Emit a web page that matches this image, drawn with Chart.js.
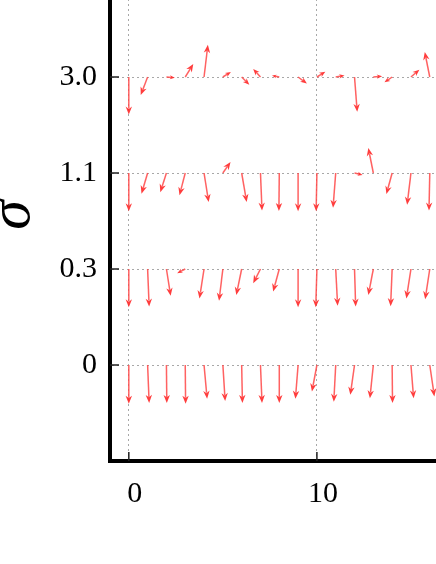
<!DOCTYPE html>
<html>
<head>
<meta charset="utf-8">
<script src="https://cdn.jsdelivr.net/npm/chart.js@4.4.1/dist/chart.umd.min.js"></script>
<style>
  html, body { margin: 0; padding: 0; background: #fff; overflow: hidden; }
  #wrap { position: absolute; left: 0; top: -62px; width: 505px; height: 626px; }
</style>
</head>
<body>
<div id="wrap"><canvas id="chart" width="505" height="626"></canvas></div>
<script>
/* global Chart */

// x positions (grid index) and sigma rows, bottom to top
const xs = [0, 1, 2, 3, 4, 5, 6, 7, 8, 9, 10, 11, 12, 13, 14, 15, 16];
const sigmaLabels = ['0', '0.3', '1.1', '3.0'];
const xTicks = [0, 10];

// vector components (u right, v up), one pair of arrays per sigma row
const u0 = [0, 0.04, 0.01, 0.01, 0.08, 0.06, 0.02, 0.04, 0, -0.07, -0.13, -0.05, -0.11, -0.09, 0.01, 0.07, 0.12];
const v0 = [-1.01, -0.99, -0.99, -1.01, -0.88, -0.94, -0.99, -0.99, -0.99, -0.88, -0.69, -0.96, -0.78, -0.87, -0.99, -0.87, -0.82];

const u03 = [0, 0.04, 0.11, -0.21, -0.12, -0.10, -0.14, -0.19, -0.16, 0, -0.03, 0.05, 0.03, -0.13, -0.04, -0.12, -0.12];
const v03 = [-1.0, -0.98, -0.70, -0.11, -0.77, -0.83, -0.68, -0.37, -0.59, -1.0, -1.0, -0.96, -0.98, -0.68, -0.97, -0.77, -0.79];

const u11 = [0, -0.16, -0.16, -0.15, 0.12, 0.20, 0.13, 0.04, -0.01, 0, -0.02, -0.07, 0.21, -0.13, -0.15, -0.10, -0.02];
const v11 = [-1.0, -0.54, -0.50, -0.58, -0.76, 0.29, -0.76, -0.98, -0.99, -1.0, -1.0, -0.91, -0.05, 0.65, -0.55, -0.83, -0.98];

const u30 = [0, -0.18, 0.22, 0.21, 0.10, 0.21, 0.20, -0.19, -0.19, 0.23, 0.22, 0.23, 0.07, 0.23, -0.20, 0.22, -0.13];
const v30 = [-0.98, -0.47, -0.02, 0.34, 0.84, 0.13, -0.20, 0.21, 0.04, -0.17, 0.14, 0.04, -0.91, 0.02, -0.14, 0.19, 0.65];

const rowsU = [u0, u03, u11, u30];
const rowsV = [v0, v03, v11, v30];

const ARROW_SCALE = 38.3; // px per unit vector
const SERIF = "'Liberation Serif', 'Times New Roman', serif";

const quiver = {
  id: 'quiver',
  afterDatasetsDraw(chart) {
    const ctx = chart.ctx;
    ctx.save();
    chart.data.datasets.forEach((ds, di) => {
      const meta = chart.getDatasetMeta(di);
      meta.data.forEach((pt, j) => {
        const dx = ds.u[j] * ARROW_SCALE;
        const dy = -ds.v[j] * ARROW_SCALE;
        const len = Math.hypot(dx, dy);
        if (!len) return;
        const ux = dx / len, uy = dy / len;
        const hl = Math.min(8, len * 0.6);
        const hw = hl * 0.4;
        const tx = pt.x + dx, ty = pt.y + dy;
        const bx = tx - ux * hl, by = ty - uy * hl;
        ctx.strokeStyle = 'rgba(255, 70, 70, 0.85)';
        ctx.lineWidth = 1.5;
        ctx.beginPath();
        ctx.moveTo(pt.x, pt.y);
        ctx.lineTo(bx + ux * 2, by + uy * 2);
        ctx.stroke();
        ctx.fillStyle = 'rgba(255, 40, 40, 0.9)';
        ctx.beginPath();
        ctx.moveTo(tx, ty);
        ctx.lineTo(bx - uy * hw, by + ux * hw);
        ctx.lineTo(bx + ux * hl * 0.3, by + uy * hl * 0.3);
        ctx.lineTo(bx + uy * hw, by - ux * hw);
        ctx.closePath();
        ctx.fill();
      });
    });
    ctx.restore();
  }
};

const innerTicks = {
  id: 'innerTicks',
  afterDraw(chart) {
    const { ctx, chartArea, scales } = chart;
    ctx.save();
    ctx.strokeStyle = '#222';
    ctx.lineWidth = 1.5;
    ctx.beginPath();
    scales.x.ticks.forEach((t) => {
      const px = scales.x.getPixelForValue(t.value);
      ctx.moveTo(px, chartArea.bottom);
      ctx.lineTo(px, chartArea.bottom - 9);
    });
    scales.y.ticks.forEach((t) => {
      const py = scales.y.getPixelForValue(t.value);
      ctx.moveTo(chartArea.left, py);
      ctx.lineTo(chartArea.left + 9, py);
    });
    ctx.stroke();
    ctx.restore();
  }
};

const datasets = rowsU.map((u, r) => ({
  data: xs.map((x) => ({ x, y: r })),
  u,
  v: rowsV[r],
  pointRadius: 0,
  showLine: false
}));

new Chart(document.getElementById('chart'), {
  type: 'scatter',
  data: { datasets },
  plugins: [quiver, innerTicks],
  options: {
    responsive: false,
    animation: false,
    events: [],
    layout: { padding: 0 },
    plugins: { legend: { display: false }, tooltip: { enabled: false } },
    scales: {
      x: {
        type: 'linear',
        min: -1,
        max: 20,
        afterBuildTicks: (s) => { s.ticks = xTicks.map((value) => ({ value })); },
        afterFit: (s) => { s.height = 103; },
        grid: { color: '#a8a8a8', lineWidth: 1, drawTicks: false },
        border: { display: true, color: '#000', width: 4, dash: [2, 3] },
        ticks: {
          color: '#000',
          padding: 15,
          labelOffset: 6,
          maxRotation: 0,
          font: { family: SERIF, size: 30 }
        }
      },
      y: {
        type: 'linear',
        min: -1,
        max: 4.125,
        afterBuildTicks: (s) => { s.ticks = sigmaLabels.map((_, value) => ({ value })); },
        afterFit: (s) => { s.width = 110; },
        grid: { color: '#a8a8a8', lineWidth: 1, drawTicks: false },
        border: { display: true, color: '#000', width: 4, dash: [2, 3] },
        ticks: {
          color: '#000',
          padding: 13,
          font: { family: SERIF, size: 30 },
          callback: (value) => sigmaLabels[value]
        },
        title: {
          display: true,
          text: 'σ',
          color: '#000',
          padding: 0,
          font: { family: SERIF, size: 60, style: 'italic', lineHeight: 0.45 }
        }
      }
    }
  }
});
</script>
</body>
</html>
